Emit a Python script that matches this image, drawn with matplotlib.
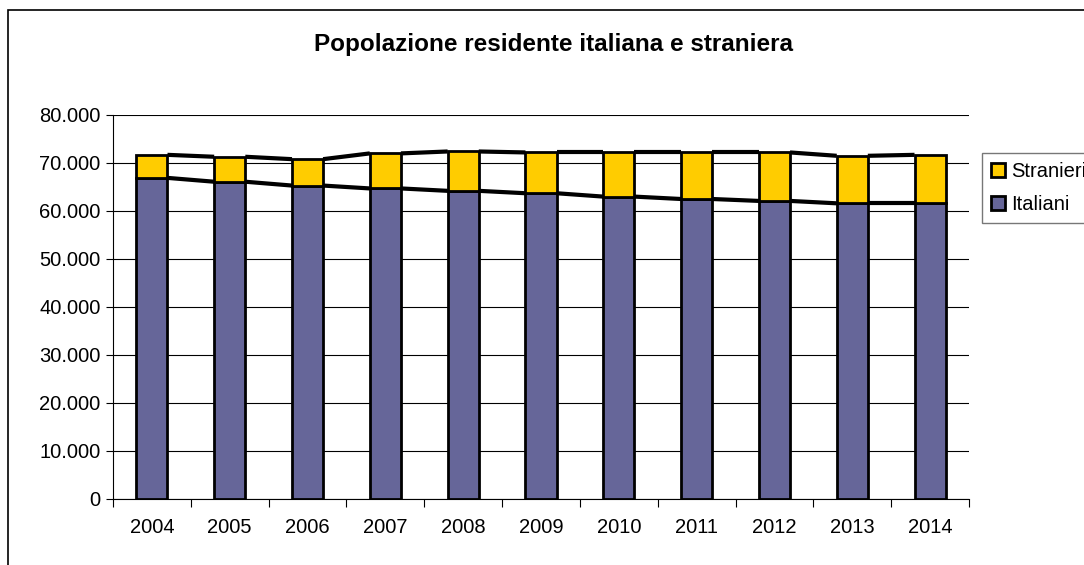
import matplotlib

matplotlib.use("Agg")
import matplotlib.pyplot as plt
import numpy as np
from matplotlib.patches import Rectangle
from matplotlib.ticker import FuncFormatter, MultipleLocator

plt.rcParams["font.family"] = ["Liberation Sans", "DejaVu Sans"]

years = ["2004", "2005", "2006", "2007", "2008", "2009",
         "2010", "2011", "2012", "2013", "2014"]
italiani = [66900, 66100, 65300, 64700, 64200, 63700, 63000, 62500, 62100, 61600, 61600]
totale = [71700, 71300, 70800, 72000, 72400, 72200, 72200, 72200, 72200, 71500, 71700]
stranieri = [t - i for t, i in zip(totale, italiani)]

C_ITA = "#666699"
C_STR = "#FFCC00"

fig = plt.figure(figsize=(10.84, 5.65), dpi=100)
# cornice esterna del grafico (stile Excel)
fig.patches.append(Rectangle((8 / 1084, -0.05), 1.2, 1 - 10 / 565 + 0.05,
                             transform=fig.transFigure, fill=False,
                             edgecolor="black", lw=1.2))
ax = fig.add_axes([113 / 1084, 66 / 565, (969 - 113) / 1084, (499 - 115) / 565])

x = np.arange(len(years))
w = 0.4
ax.bar(x, italiani, w, color=C_ITA, edgecolor="black", lw=2.0, label="Italiani", zorder=3)
ax.bar(x, stranieri, w, bottom=italiani, color=C_STR, edgecolor="black", lw=2.0,
       label="Stranieri", zorder=3)

# linee di serie tra le barre
for i in range(len(x) - 1):
    xs = [x[i] + w / 2, x[i + 1] - w / 2]
    ax.plot(xs, [italiani[i], italiani[i + 1]], color="black", lw=3.0, zorder=4,
            solid_capstyle="butt")
    ax.plot(xs, [totale[i], totale[i + 1]], color="black", lw=3.0, zorder=4,
            solid_capstyle="butt")

ax.set_xlim(-0.5, len(x) - 0.5)
ax.set_ylim(0, 80000)
ax.yaxis.set_major_locator(MultipleLocator(10000))
ax.yaxis.set_major_formatter(FuncFormatter(lambda v, p: f"{int(v):,}".replace(",", ".")))
ax.grid(axis="y", color="black", lw=0.8, zorder=1)

ax.set_xticks(x)
ax.set_xticklabels(years)
ax.set_xticks(np.arange(-0.5, len(x), 1), minor=True)
ax.tick_params(axis="x", which="major", length=0, pad=14, labelsize=14.5)
ax.tick_params(axis="x", which="minor", length=6, width=0.8, direction="out")
ax.tick_params(axis="y", length=5, width=0.8, labelsize=14.5, pad=4)

for s in ["top", "right"]:
    ax.spines[s].set_visible(False)
for s in ["left", "bottom"]:
    ax.spines[s].set_linewidth(0.8)

fig.text(554 / 1084, 1 - 45 / 565, "Popolazione residente italiana e straniera",
         ha="center", va="center", fontsize=17.5, fontweight="bold")

h, l = ax.get_legend_handles_labels()
leg = fig.legend(h[::-1], l[::-1], loc="upper left",
                 bbox_to_anchor=(982 / 1084, 1 - 153 / 565),
                 frameon=True, fancybox=False, edgecolor="#555555",
                 fontsize=14.5, handlelength=0.7, handleheight=0.7,
                 handletextpad=0.3, borderpad=0.45, borderaxespad=0,
                 labelspacing=0.7)
leg.get_frame().set_linewidth(1.0)

fig.savefig("out.png", dpi=100)
